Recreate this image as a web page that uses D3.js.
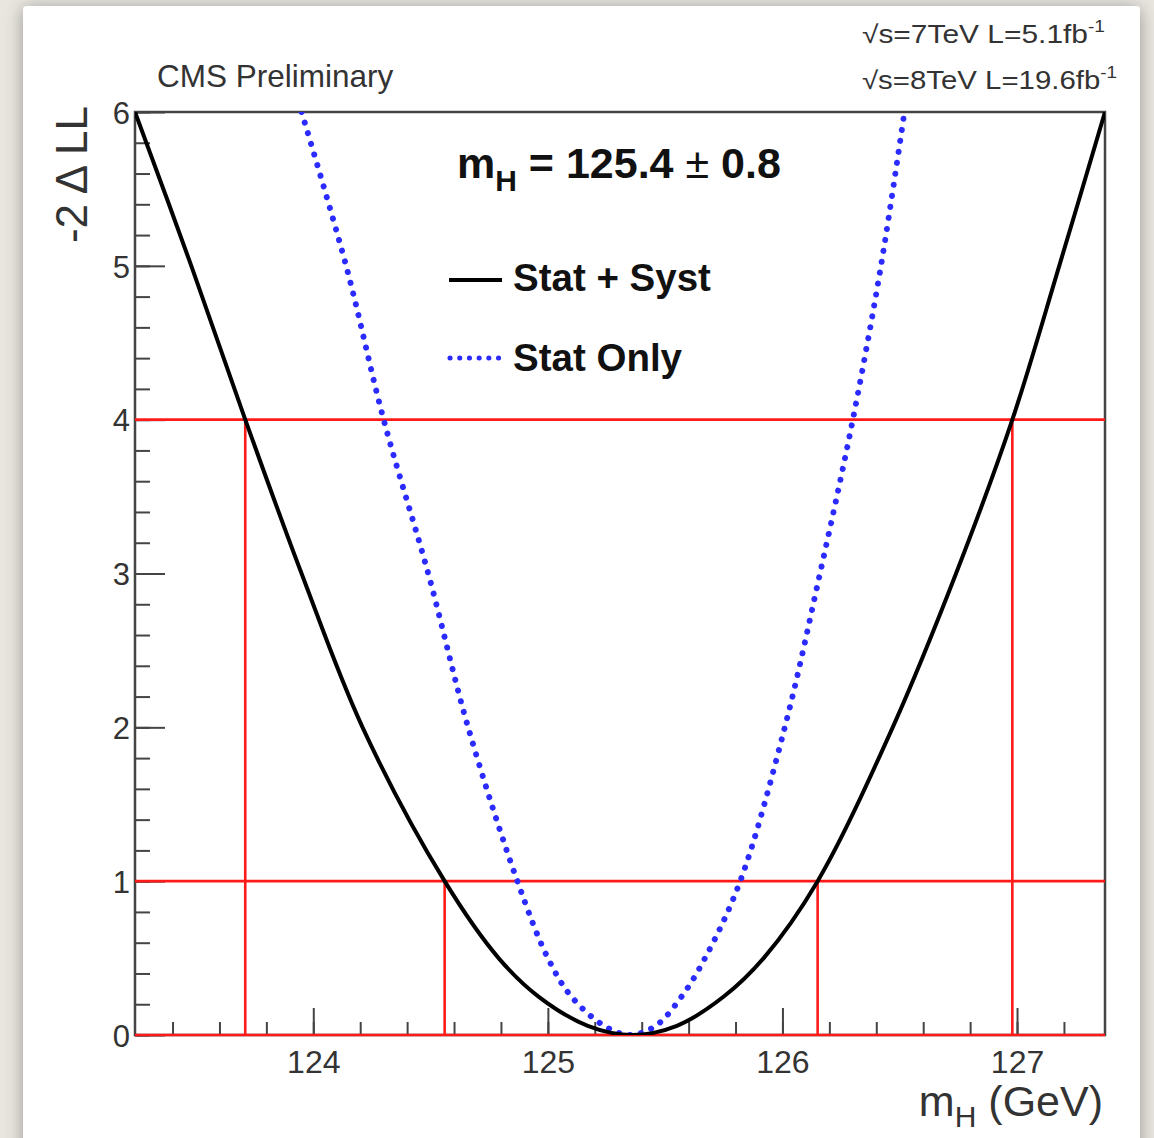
<!DOCTYPE html>
<html>
<head>
<meta charset="utf-8">
<script src="https://cdn.jsdelivr.net/npm/d3@7"></script>
<style>
  html, body { margin: 0; padding: 0; background: #e9e6e0; }
  #chart { width: 1154px; height: 1138px; }
  text { font-family: "Liberation Sans", Arial, Helvetica, sans-serif; }
</style>
</head>
<body>
<div id="chart"></div>
<script>
// -2 ΔLL scan vs m_H
const statSystMass = [123.24, 123.48, 123.71, 123.95, 124.21, 124.56, 124.79, 124.96, 125.17, 125.36, 125.55, 125.75, 125.92, 126.15, 126.47, 126.74, 126.98, 127.18, 127.375];
const statSystNll  = [6.0, 5.0, 4.0, 3.0, 2.0, 1.0, 0.5, 0.25, 0.06, 0.0, 0.06, 0.25, 0.5, 1.0, 2.0, 3.0, 4.0, 5.0, 6.0];

const statOnlyMass = [123.95, 124.14, 124.30, 124.49, 124.66, 124.87, 125.00, 125.10, 125.24, 125.35, 125.46, 125.57, 125.67, 125.82, 126.01, 126.16, 126.30, 126.42, 126.52];
const statOnlyNll  = [6.0, 5.0, 4.0, 3.0, 2.0, 1.0, 0.5, 0.25, 0.06, 0.0, 0.06, 0.25, 0.5, 1.0, 2.0, 3.0, 4.0, 5.0, 6.0];

// red interval lines: levels and where the stat+syst curve crosses them
const levels     = [0, 1, 4];
const crossLevel = [4, 1, 1, 4];
const crossMass  = [123.71, 124.56, 126.15, 126.98];

const xDomain = [123.24, 127.375];
const yDomain = [0, 6];
const xTicks = [124, 125, 126, 127];
const yTicks = [0, 1, 2, 3, 4, 5, 6];

const width = 1154, height = 1138;
const marginLeft = 135, marginRight = 49, marginTop = 112, marginBottom = 103;

const x = d3.scaleLinear().domain(xDomain).range([marginLeft, width - marginRight]);
const y = d3.scaleLinear().domain(yDomain).range([height - marginBottom, marginTop]);

const svg = d3.select("#chart").append("svg")
  .attr("width", width)
  .attr("height", height)
  .attr("viewBox", [0, 0, width, height]);

// photo-style panel with soft shadow
const defs = svg.append("defs");
const f = defs.append("filter").attr("id", "shadow")
  .attr("x", -0.05).attr("y", -0.05).attr("width", 1.1).attr("height", 1.1);
f.append("feGaussianBlur").attr("in", "SourceAlpha").attr("stdDeviation", 9);
f.append("feOffset").attr("dx", 0).attr("dy", 2).attr("result", "b");
f.append("feComponentTransfer").append("feFuncA").attr("type", "linear").attr("slope", 0.35);
const fm = f.append("feMerge");
fm.append("feMergeNode");
fm.append("feMergeNode").attr("in", "SourceGraphic");

svg.append("rect")
  .attr("x", 23).attr("y", 6)
  .attr("width", 1117).attr("height", 1160)
  .attr("rx", 4)
  .attr("fill", "#fff")
  .attr("filter", "url(#shadow)");

const [x0, x1] = x.range();
const [y0, y1] = y.range();

// clip for curves
defs.append("clipPath").attr("id", "plot")
  .append("rect").attr("x", x0).attr("y", y1).attr("width", x1 - x0).attr("height", y0 - y1);

// axis ticks (ROOT style, pointing into the frame)
const minorX = d3.range(Math.ceil(xDomain[0] * 5), Math.floor(xDomain[1] * 5) + 1).map(d => d / 5);
const minorY = d3.range(0, 31).map(d => d / 5);

svg.append("g")
  .attr("transform", `translate(0,${y0})`)
  .call(d3.axisBottom(x).tickValues(minorX).tickSize(-13).tickFormat(""))
  .call(g => g.select(".domain").remove())
  .call(g => g.selectAll("line").attr("stroke", "#444").attr("stroke-width", 2));

svg.append("g")
  .attr("transform", `translate(0,${y0})`)
  .call(d3.axisBottom(x).tickValues(xTicks).tickSize(-27).tickPadding(0).tickFormat(d3.format("d")))
  .call(g => g.select(".domain").remove())
  .call(g => g.selectAll("line").attr("stroke", "#444").attr("stroke-width", 2))
  .call(g => g.selectAll("text")
    .attr("y", 38)
    .attr("dy", 0)
    .attr("fill", "#333")
    .attr("font-size", 32)
    .attr("font-family", "Liberation Sans, Arial, sans-serif"));

svg.append("g")
  .attr("transform", `translate(${x0},0)`)
  .call(d3.axisLeft(y).tickValues(minorY).tickSize(-15).tickFormat(""))
  .call(g => g.select(".domain").remove())
  .call(g => g.selectAll("line").attr("stroke", "#444").attr("stroke-width", 2));

svg.append("g")
  .attr("transform", `translate(${x0},0)`)
  .call(d3.axisLeft(y).tickValues(yTicks).tickSize(-30).tickFormat(d3.format("d")))
  .call(g => g.select(".domain").remove())
  .call(g => g.selectAll("line").attr("stroke", "#444").attr("stroke-width", 2))
  .call(g => g.selectAll("text")
    .attr("x", -5)
    .attr("dy", "0.36em")
    .attr("fill", "#333")
    .attr("font-size", 31)
    .attr("font-family", "Liberation Sans, Arial, sans-serif"));

// frame
svg.append("rect")
  .attr("x", x0).attr("y", y1)
  .attr("width", x1 - x0).attr("height", y0 - y1)
  .attr("fill", "none")
  .attr("stroke", "#444")
  .attr("stroke-width", 2.5);

// red interval lines
const red = svg.append("g").attr("stroke", "#ff1a1a").attr("stroke-width", 2.6);
red.selectAll("line.h")
  .data(levels)
  .join("line")
  .attr("class", "h")
  .attr("x1", x0).attr("x2", x1)
  .attr("y1", d => y(d)).attr("y2", d => y(d));
red.selectAll("line.v")
  .data(crossMass.map((m, i) => ({ m, lvl: crossLevel[i] })))
  .join("line")
  .attr("class", "v")
  .attr("x1", d => x(d.m)).attr("x2", d => x(d.m))
  .attr("y1", y(0)).attr("y2", d => y(d.lvl));

// curves
const line = d3.line()
  .x(d => x(d[0]))
  .y(d => y(d[1]))
  .curve(d3.curveCatmullRom.alpha(0.5));

const curves = svg.append("g").attr("clip-path", "url(#plot)");

curves.append("path")
  .datum(statOnlyMass.map((m, i) => [m, statOnlyNll[i]]))
  .attr("fill", "none")
  .attr("stroke", "#2b2bff")
  .attr("stroke-width", 6)
  .attr("stroke-linecap", "round")
  .attr("stroke-dasharray", "0.1 11")
  .attr("d", line);

curves.append("path")
  .datum(statSystMass.map((m, i) => [m, statSystNll[i]]))
  .attr("fill", "none")
  .attr("stroke", "#000")
  .attr("stroke-width", 4)
  .attr("d", line);

// texts
svg.append("text")
  .attr("x", 157).attr("y", 87)
  .attr("font-size", 31.5)
  .attr("fill", "#333")
  .text("CMS Preliminary");

const energy = svg.append("g").attr("font-size", 25).attr("fill", "#333");
[["7TeV L=5.1fb", 43, 243], ["8TeV L=19.6fb", 89, 255]].forEach(([t, yy, w]) => {
  const tx = energy.append("text").attr("x", 862).attr("y", yy)
    .attr("textLength", w).attr("lengthAdjust", "spacingAndGlyphs");
  tx.append("tspan").text("√s=" + t);
  tx.append("tspan").attr("font-size", 16).attr("dy", -11).text("-1");
});

const res = svg.append("text")
  .attr("x", 457).attr("y", 178)
  .attr("font-size", 43)
  .attr("font-weight", "bold")
  .attr("fill", "#111");
res.append("tspan").text("m");
res.append("tspan").attr("font-size", 30).attr("dy", 13).text("H");
res.append("tspan").attr("dy", -13).text(" = 125.4 ");
res.append("tspan").attr("font-weight", "normal").text("±");
res.append("tspan").text(" 0.8");

// legend
const legend = svg.append("g");
legend.append("line")
  .attr("x1", 449).attr("x2", 502).attr("y1", 280).attr("y2", 280)
  .attr("stroke", "#000").attr("stroke-width", 4);
legend.append("text")
  .attr("x", 513).attr("y", 291)
  .attr("font-size", 38.5).attr("font-weight", "bold").attr("fill", "#111")
  .text("Stat + Syst");
legend.append("line")
  .attr("x1", 450).attr("x2", 502).attr("y1", 358).attr("y2", 358)
  .attr("stroke", "#2b2bff").attr("stroke-width", 5)
  .attr("stroke-linecap", "round").attr("stroke-dasharray", "0.1 9.6");
legend.append("text")
  .attr("x", 513).attr("y", 371)
  .attr("font-size", 38.5).attr("font-weight", "bold").attr("fill", "#111")
  .text("Stat Only");

// axis titles
const xt = svg.append("text")
  .attr("x", 1103).attr("y", 1116)
  .attr("text-anchor", "end")
  .attr("font-size", 43)
  .attr("fill", "#333");
xt.append("tspan").text("m");
xt.append("tspan").attr("font-size", 30).attr("dy", 11).text("H");
xt.append("tspan").attr("dy", -11).text(" (GeV)");

svg.append("text")
  .attr("transform", "translate(87,106) rotate(-90)")
  .attr("text-anchor", "end")
  .attr("font-size", 44)
  .attr("fill", "#333")
  .text("-2 Δ LL");
</script>
</body>
</html>
